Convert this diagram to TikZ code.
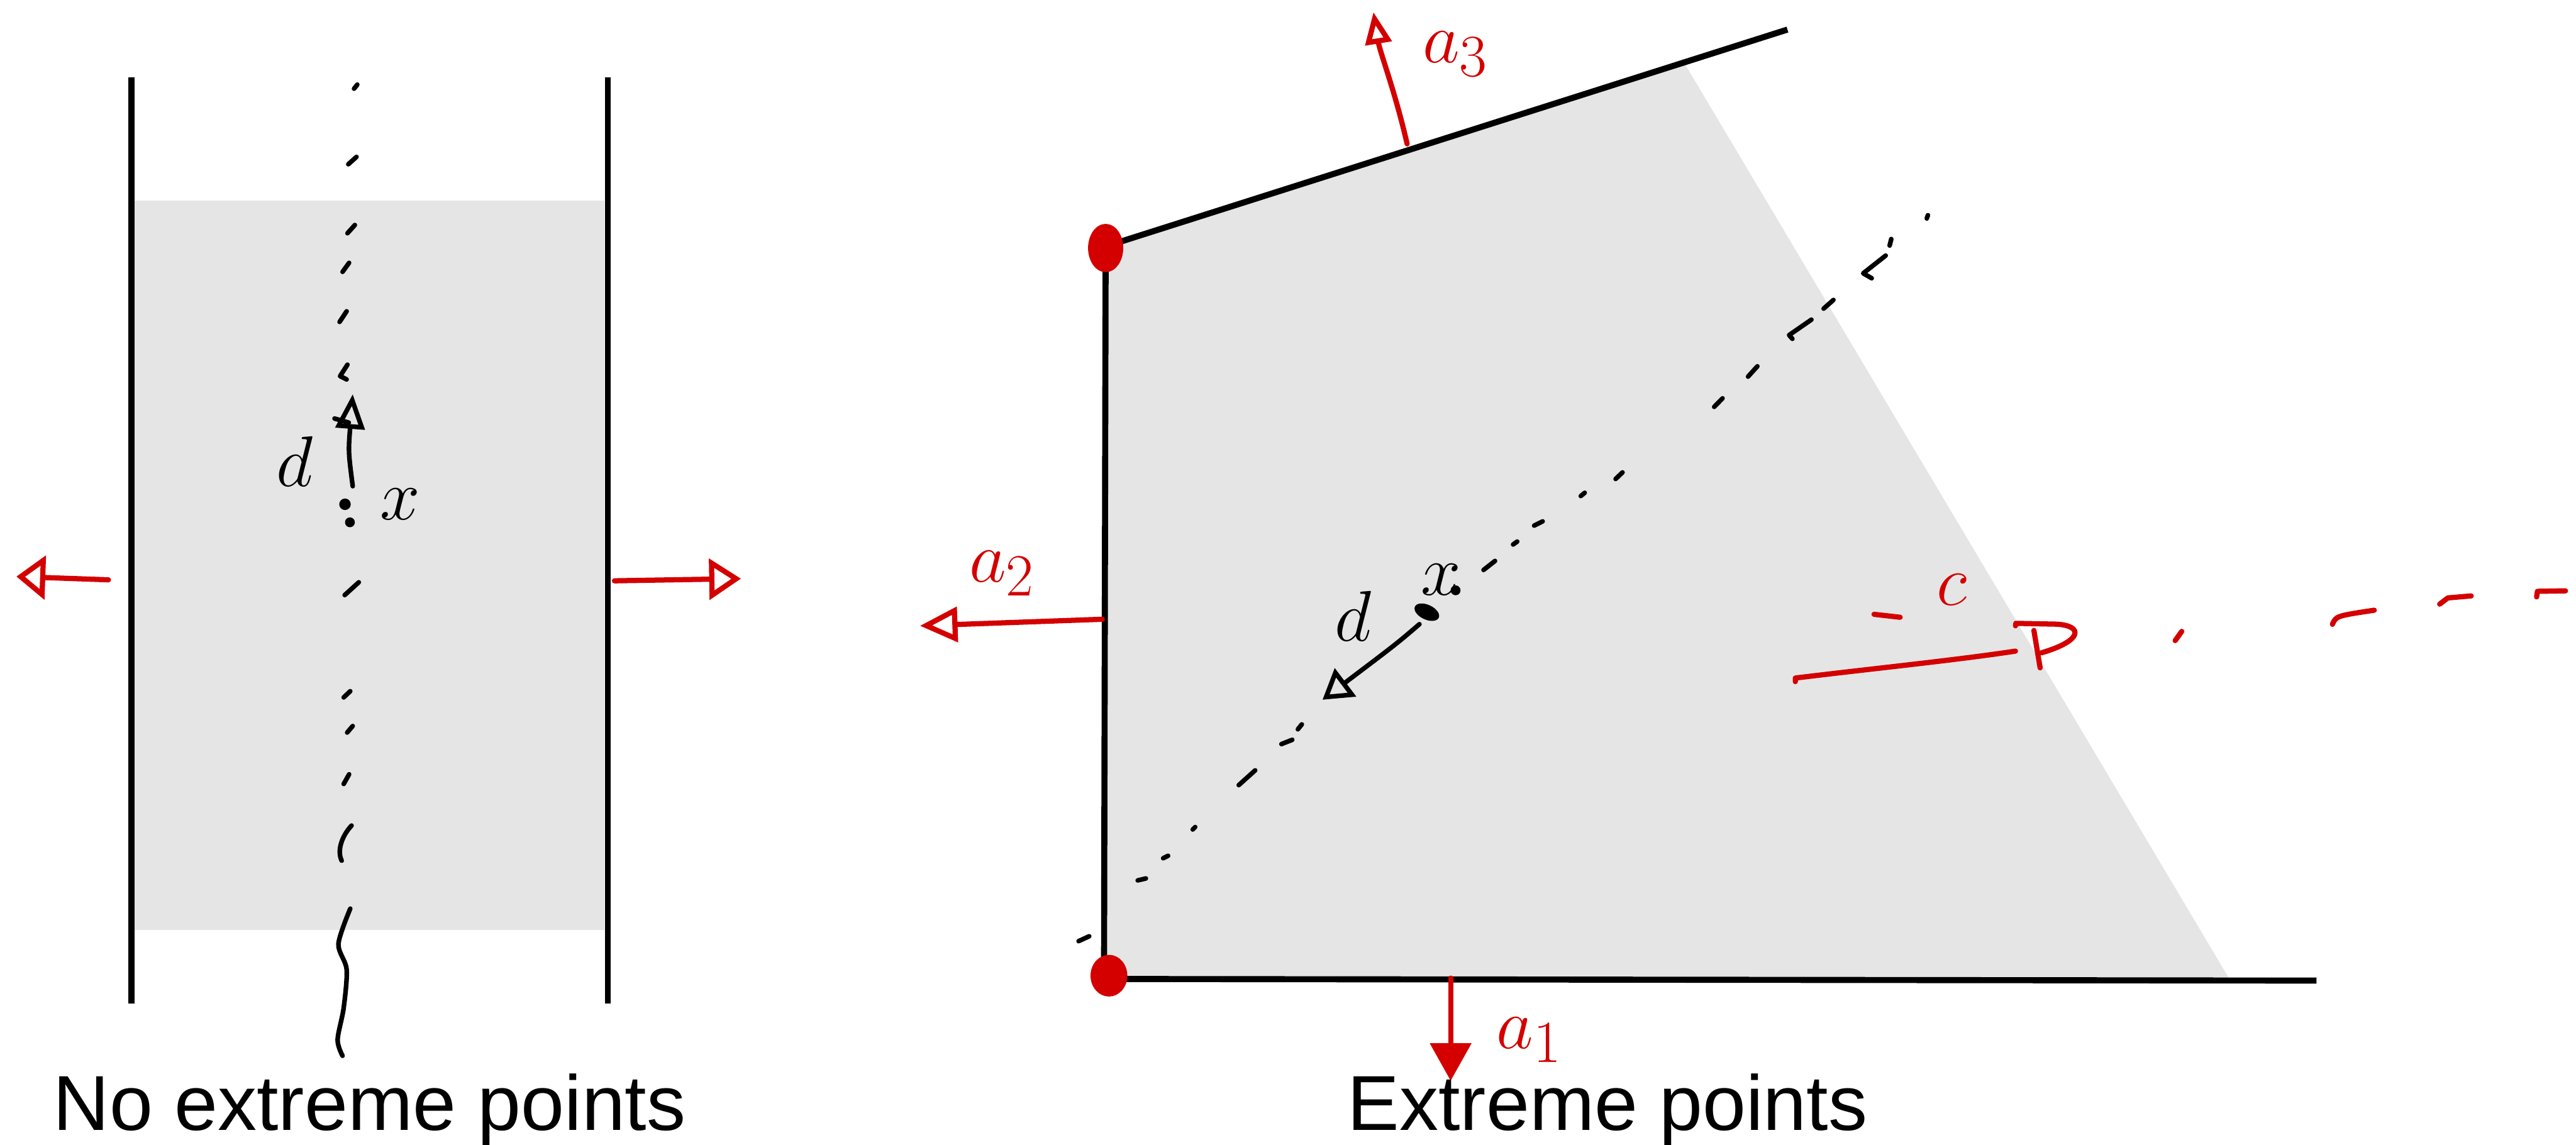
\documentclass[tikz,border=0pt]{standalone}
\usepackage{fontspec}
\setsansfont{Liberation Sans}
\usetikzlibrary{arrows.meta}
\colorlet{cink}{black}
\definecolor{cred}{RGB}{212,0,0}
\definecolor{cshade}{RGB}{229,229,229}
\tikzset{
  bound/.style={draw=cink, line width=2.1pt},
  shade/.style={fill=cshade, draw=none},
  pen/.style={draw=cink, line width=1.6pt, line cap=round, line join=round},
  redpen/.style={draw=cred, line width=1.8pt, line cap=round, line join=round},
  hand/.style={font=\fontsize{28}{28}\selectfont, inner sep=0pt, text=#1},
  hand/.default=cink,
  caption/.style={font=\sffamily\fontsize{27}{30}\selectfont, anchor=base, inner sep=0pt},
  blob/.style={fill=cred, draw=cred, line width=0.8pt},
}
\begin{document}
\begin{tikzpicture}[x=0.02cm, y=-0.02cm]
\useasboundingbox (0,0) rectangle (1568,697);

\fill[shade] (82,122) rectangle (368,566);
\draw[bound] (80,47) -- (80,611);
\draw[bound] (370,47) -- (370,611);
\foreach \xa/\ya/\xb/\yb in {215.5/54/217.5/51.5, 212/100/217/95.5, 211.5/142/216/137,
  208.5/165.5/212.5/160, 206.7/196/211/189.5, 209.8/362.3/218.4/354.5,
  209.2/424.6/213.2/420.8, 211.3/446/214.7/442, 209.2/477.3/212.5/471.4}
  \draw[pen] (\xa,\ya) -- (\xb,\yb);
\draw[pen] (211.5,222) -- (207,229) -- (211,231);
\draw[pen] (214,502.6) .. controls (208,509) and (205,518) .. (208,524);
\draw[pen] plot[smooth] coordinates {(213.2,553.2) (206,574.7) (211,590.2) (209.2,613.6) (205.5,633) (208.5,642.8)};
\coordinate (lx0) at (214.7,296);
\coordinate (lx1) at (214.7,240);
\draw[pen, -{Triangle[open, length=12pt, width=10pt]}] (lx0) .. controls (212,275) .. (lx1);
\draw[pen] (203.6,254.8) -- (212.3,257.3);
\fill[cink] (210,307) circle (0.07cm);
\fill[cink] (213,318) circle (0.06cm);
\node[hand] (ld) at (179.5,281) {$d$};
\node[hand] (lx) at (243.7,307) {$x$};
\coordinate (lw0) at (66,353);
\coordinate (lw1) at (10,351);
\coordinate (le0) at (374,353.6);
\coordinate (le1) at (451,352.3);
\draw[redpen, -{Triangle[open, length=10pt, width=15pt]}] (lw0) -- (lw1);
\draw[redpen, -{Triangle[open, length=11pt, width=14pt]}] (le0) -- (le1);
\node[caption] (nocap) at (225,688) {No extreme points};

\coordinate (A) at (673,150);
\coordinate (B) at (672,596);
\coordinate (T) at (1088,18);
\coordinate (R) at (1410,597);
\fill[shade] (A) -- (1025,38) -- (1357,596) -- (B) -- cycle;
\draw[bound] (T) -- (A) -- (B) -- (R);
\foreach \xa/\ya/\xb/\yb in {656.5/573/663/570, 692.5/536/697.5/534.8, 708/522.5/711/521,
  726/505/727.5/503.5, 754/478/764/469, 780/453/786.6/450.4, 790/444/792.4/441,
  903/347/910/341.5, 921/331.5/923.5/329.7, 933.8/320/939/317.4, 962.2/302/964.6/300,
  983.4/291.6/987.6/287.6, 1043.4/247.7/1048.5/242.5, 1064/229.3/1069.7/223,
  1110/187.9/1116/182.6, 1150.2/149.5/1151.2/145.5, 1172.8/133/1173.5/131}
  \draw[pen] (\xa,\ya) -- (\xb,\yb);
\draw[pen] (1091,206.3) -- (1089,204) -- (1102.6,194.6);
\draw[pen] (1139.3,169.4) -- (1134.1,166.4) -- (1147.8,155.6);
\coordinate (rx0) at (864,380);
\coordinate (rx1) at (805,426);
\fill[cink, rotate around={-25:(868.5,372.7)}] (868.5,372.7) ellipse (0.16cm and 0.09cm);
\draw[pen, -{Triangle[open, length=10pt, width=12pt]}] (rx0) .. controls (850,392) .. (rx1);
\fill[cink] (886,359.4) circle (0.06cm);
\node[hand] (rd) at (823.5,375) {$d$};
\node[hand] (rx) at (877,353) {$x$};

\fill[blob] (A) ++(0,1) ellipse (0.2cm and 0.28cm);
\fill[blob] (B) ++(3,-2) ellipse (0.21cm and 0.24cm);
\coordinate (a3s) at (856.5,87.6);
\coordinate (a3e) at (836,7.4);
\draw[redpen, -{Triangle[open, length=11pt, width=9pt]}] (a3s) .. controls (849,55) and (840,32) .. (a3e);
\node[hand=cred] (a3) at (886,33) {$a_3$};
\coordinate (a2s) at (671,377);
\coordinate (a2e) at (560,381);
\draw[redpen, -{Triangle[open, length=13pt, width=12pt]}] (a2s) -- (a2e);
\node[hand=cred] (a2) at (610,349) {$a_2$};
\coordinate (a1s) at (883,595.5);
\coordinate (a1e) at (883,658);
\draw[redpen, -{Triangle[length=13pt, width=14pt]}] (a1s) -- (a1e);
\node[hand=cred] (a1) at (931,633) {$a_1$};

\draw[redpen] (1092.8,415) -- (1092.8,412.8) .. controls (1140,407) and (1190,402) .. (1226.8,396.4);
\draw[redpen] (1238,383.8) -- (1241.8,406.6);
\draw[redpen] (1226.8,381) -- (1227,379.5) -- (1252,380) .. controls (1268,381) and (1268,390) .. (1242.7,397.4);
\draw[redpen] (1140.7,374) -- (1156.6,375.8);
\node[hand=cred] (cc) at (1188,359) {$c$};
\draw[redpen] (1324,390) -- (1328,384.4);
\draw[redpen] (1419.7,380.1) .. controls (1422,375) .. (1445.2,371.5);
\draw[redpen] (1485,367.8) -- (1490,364) -- (1504.2,362.8);
\draw[redpen] (1544,363.4) -- (1544.5,360) -- (1561.6,359.7);
\node[caption] (excap) at (978.5,688) {Extreme points};
\end{tikzpicture}
\end{document}
